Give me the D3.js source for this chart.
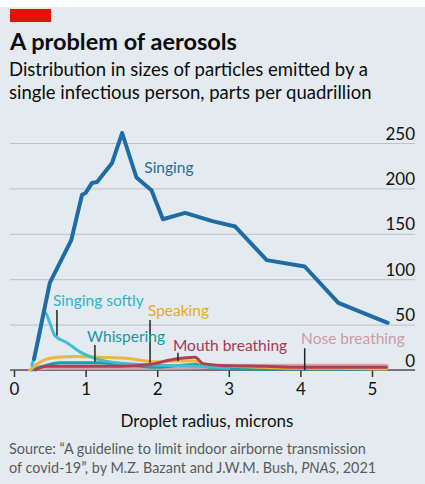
<!DOCTYPE html>
<html>
<head>
<meta charset="utf-8">
<script src="https://cdn.jsdelivr.net/npm/d3@7.9.0/dist/d3.min.js"></script>
<style>
  body { margin: 0; background: #fff; }
  svg { display: block; }
  text { font-family: Lato, 'Open Sans', sans-serif; }
</style>
</head>
<body>
<svg id="chart"></svg>
<script>
// Values: droplet radius (microns) and parts per quadrillion
const singingX = [0.28, 0.5, 0.8, 0.95, 1.0, 1.09, 1.16, 1.37, 1.51, 1.71, 1.92, 2.08, 2.39, 2.77, 3.09, 3.53, 4.06, 4.53, 5.22];
const singingY = [12, 96, 143, 193, 195, 206, 207, 228, 261, 212, 198, 166, 173, 164, 158, 121, 114, 74, 52];

const softlyX = [0.25, 0.35, 0.43, 0.5, 0.57, 0.74, 0.92, 1.16, 1.44, 1.8, 2.2, 2.6, 3.0];
const softlyY = [5, 35, 64, 52, 38, 30, 20, 12, 8, 6, 5, 4, 2];

const speakingX = [0.22, 0.35, 0.6, 0.9, 1.2, 1.55, 2.0, 2.3, 2.5, 2.7, 3.0, 3.5, 4.0, 4.5, 5.2];
const speakingY = [0, 8, 14, 15, 14, 13, 9, 10, 10, 6, 4, 3, 2, 2, 1];

const whisperX = [0.25, 0.4, 0.64, 1.13, 1.55, 2.0, 2.3, 2.55, 2.75, 3.0, 3.5, 4.0, 5.2];
const whisperY = [0, 4, 8, 8, 6, 3, 5, 6, 3, 2, 1, 1, 1];

const mouthX = [0.3, 0.45, 1.0, 1.5, 1.9, 2.18, 2.53, 2.64, 2.9, 3.5, 4.0, 4.5, 5.2];
const mouthY = [0, 4, 4, 4, 6, 11, 14, 7, 5, 4, 3, 3, 3];

const noseX = [0.3, 0.5, 1.0, 2.0, 3.0, 4.0, 5.2];
const noseY = [2, 3, 3, 3, 4, 4, 4];

const xTicks = [0, 1, 2, 3, 4, 5];
const yTicks = [0, 50, 100, 150, 200, 250];

const width = 425;
const height = 484;
const bg = '#e3ebf1';

const svg = d3.select('#chart').attr('width', width).attr('height', height);

svg.append('rect').attr('width', width).attr('height', height).attr('fill', bg);
svg.append('rect').attr('width', width).attr('height', 7).attr('fill', '#fff');
svg.append('rect').attr('x', 10).attr('y', 9).attr('width', 41).attr('height', 13).attr('fill', '#e3120b');

svg.append('text').attr('x', 10).attr('y', 50)
  .attr('font-size', 23.5).attr('font-weight', 700).attr('fill', '#0c0c0c')
  .text('A problem of aerosols');
svg.append('text').attr('x', 9).attr('y', 76)
  .attr('font-size', 18.5).attr('fill', '#0c0c0c')
  .text('Distribution in sizes of particles emitted by a');
svg.append('text').attr('x', 9).attr('y', 99)
  .attr('font-size', 18.5).attr('fill', '#0c0c0c')
  .text('single infectious person, parts per quadrillion');

// scales
const xScale = d3.scaleLinear().domain([0, 5]).range([14, 372]);
const yScale = d3.scaleLinear().domain([0, 250]).range([370, 143]);

// gridlines + labels sitting on top of the lines, right aligned
const yAxis = d3.axisRight(yScale).tickValues(yTicks).tickSize(405).tickPadding(0);
const gy = svg.append('g').attr('transform', 'translate(10,0)').call(yAxis);
gy.select('.domain').remove();
gy.selectAll('.tick line').attr('stroke', '#b9c2c9').attr('stroke-width', 1);
gy.selectAll('.tick text')
  .attr('x', 405).attr('dy', -4).attr('text-anchor', 'end')
  .attr('font-size', 17).attr('font-family', 'Lato, sans-serif').attr('fill', '#111');

// x axis with dark baseline
const xAxis = d3.axisBottom(xScale).tickValues(xTicks).tickFormat(d3.format('d'))
  .tickSize(7).tickPadding(6);
const gx = svg.append('g').attr('transform', `translate(0,${yScale(0)})`).call(xAxis);
gx.select('.domain').remove();
gx.selectAll('.tick line').attr('stroke', '#333').attr('stroke-width', 1.5);
gx.selectAll('.tick text')
  .attr('font-size', 17).attr('font-family', 'Lato, sans-serif').attr('fill', '#111');
svg.append('line')
  .attr('x1', 10).attr('x2', 415)
  .attr('y1', yScale(0)).attr('y2', yScale(0))
  .attr('stroke', '#555').attr('stroke-width', 1.5);

svg.append('text').attr('x', 207).attr('y', 427).attr('text-anchor', 'middle')
  .attr('font-size', 17).attr('fill', '#111')
  .text('Droplet radius, microns');

const lineSharp = d3.line().x((d) => xScale(d[0])).y((d) => yScale(d[1]));
const lineSmooth = d3.line().x((d) => xScale(d[0])).y((d) => yScale(d[1])).curve(d3.curveMonotoneX);

const series = [
  { xs: noseX, ys: noseY, color: '#d7a5b0', w: 5, gen: lineSmooth },
  { xs: whisperX, ys: whisperY, color: '#17a0a8', w: 3, gen: lineSmooth },
  { xs: speakingX, ys: speakingY, color: '#efb53c', w: 3, gen: lineSmooth },
  { xs: softlyX, ys: softlyY, color: '#3ebfd6', w: 3, gen: lineSmooth },
  { xs: mouthX, ys: mouthY, color: '#b03f55', w: 3, gen: lineSmooth },
  { xs: singingX, ys: singingY, color: '#1f6ca4', w: 4, gen: lineSharp },
];

svg.selectAll('path.series')
  .data(series)
  .join('path')
  .attr('class', 'series')
  .attr('d', (s) => s.gen(s.xs.map((x, i) => [x, s.ys[i]])))
  .attr('fill', 'none')
  .attr('stroke', (s) => s.color)
  .attr('stroke-width', (s) => s.w)
  .attr('stroke-linejoin', 'round')
  .attr('stroke-linecap', 'round');

// leader lines, in data units
const leaders = [
  { x: 0.6, y1: 38, y2: 66 },
  { x: 1.13, y1: 9, y2: 27.5 },
  { x: 1.9, y1: 8, y2: 55 },
  { x: 2.29, y1: 10, y2: 19 },
  { x: 4.06, y1: 0, y2: 24 },
];
svg.selectAll('line.leader')
  .data(leaders)
  .join('line')
  .attr('class', 'leader')
  .attr('x1', (d) => xScale(d.x)).attr('x2', (d) => xScale(d.x))
  .attr('y1', (d) => yScale(d.y1)).attr('y2', (d) => yScale(d.y2))
  .attr('stroke', '#222').attr('stroke-width', 1.5);

const labels = [
  { text: 'Singing', x: 1.82, y: 217, color: '#1f6ca4' },
  { text: 'Singing softly', x: 0.545, y: 70, color: '#2eb3cf' },
  { text: 'Speaking', x: 1.87, y: 59, color: '#eaa81e' },
  { text: 'Whispering', x: 1.02, y: 31, color: '#1598a3' },
  { text: 'Mouth breathing', x: 2.22, y: 21, color: '#a8394f' },
  { text: 'Nose breathing', x: 4.01, y: 29, color: '#cf9aa6' },
];
svg.selectAll('text.label')
  .data(labels)
  .join('text')
  .attr('class', 'label')
  .attr('x', (d) => xScale(d.x)).attr('y', (d) => yScale(d.y))
  .attr('font-size', 15.5).attr('fill', (d) => d.color)
  .text((d) => d.text);

const src = svg.append('g').attr('font-size', 14.4).attr('fill', '#5b5b5b');
src.append('text').attr('x', 9).attr('y', 454)
  .text('Source: \u201CA guideline to limit indoor airborne transmission');
const src2 = src.append('text').attr('x', 9).attr('y', 473);
src2.append('tspan').text('of covid-19\u201D, by M.Z. Bazant and J.W.M. Bush, ');
src2.append('tspan').attr('font-style', 'italic').text('PNAS');
src2.append('tspan').text(', 2021');
</script>
</body>
</html>
